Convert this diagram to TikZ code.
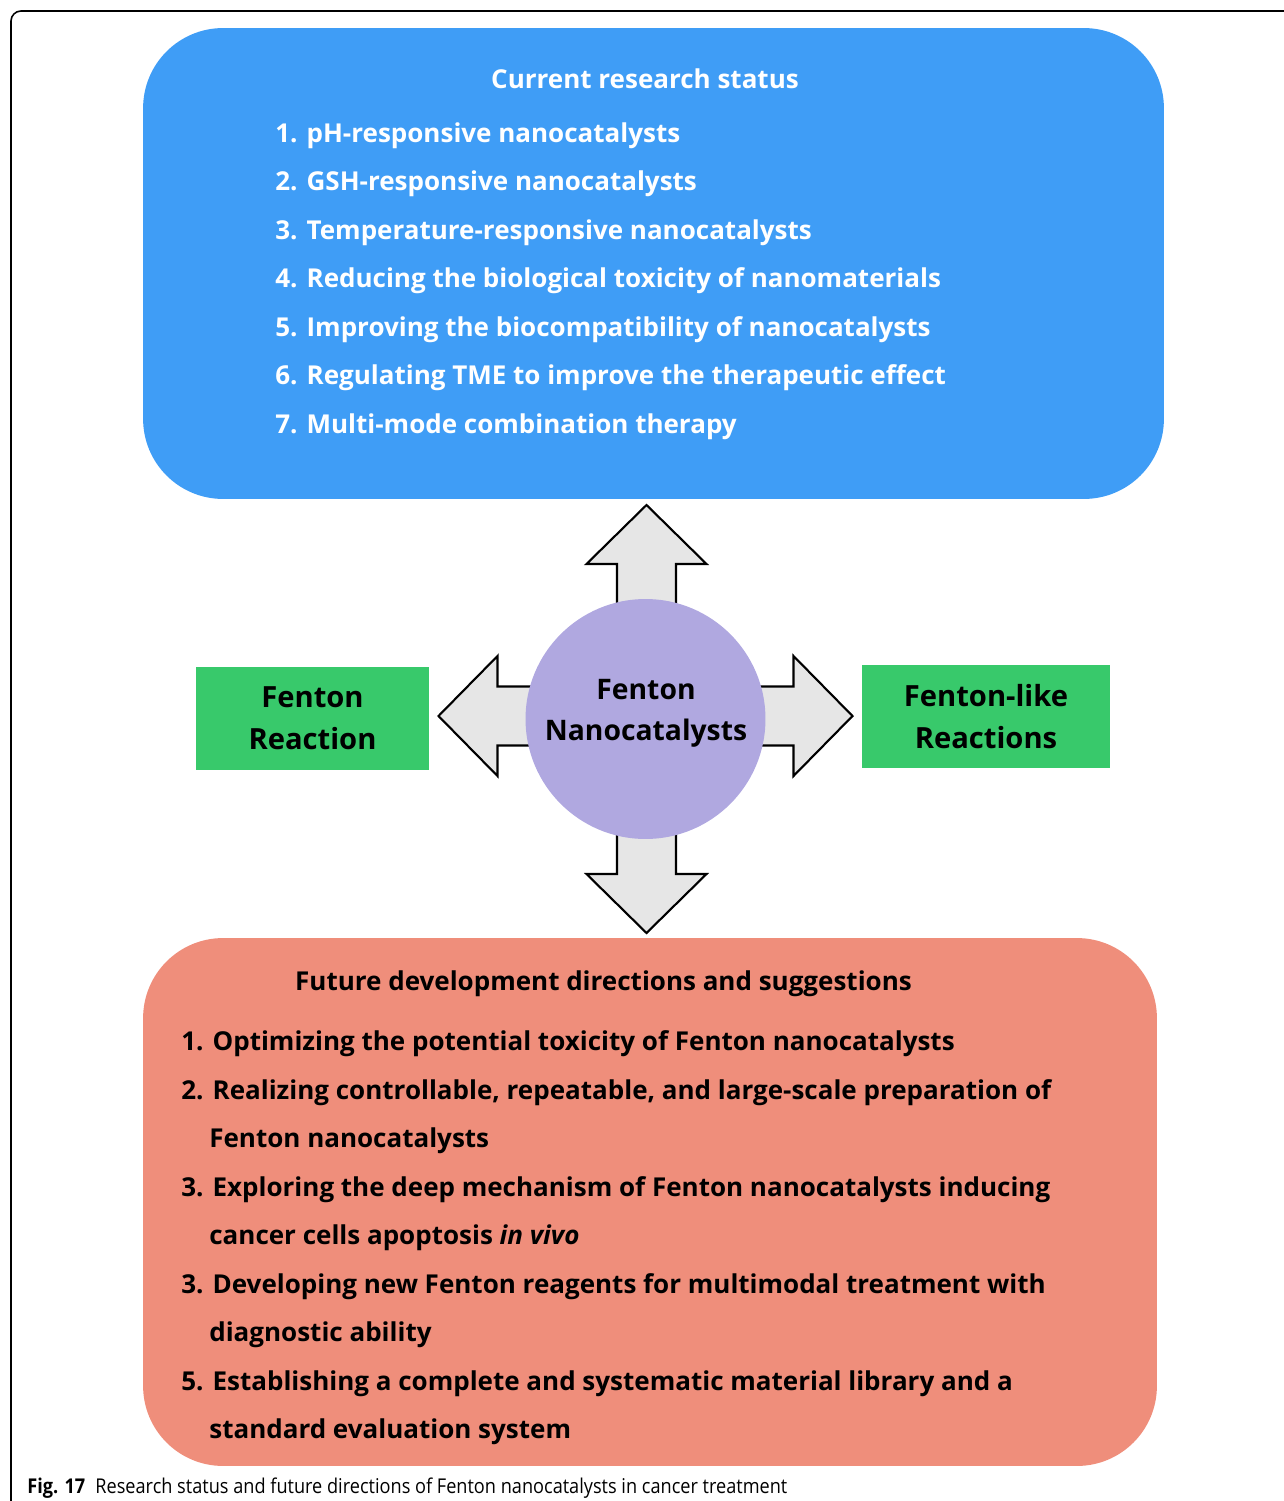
\documentclass[tikz,border=0pt]{standalone}
\usepackage{fontspec}
\setmainfont{Open Sans}
\newfontfamily\capfont[FakeStretch=0.89]{Open Sans}
\usetikzlibrary{calc}

\definecolor{statusblue}{HTML}{3F9DF6}
\definecolor{futurered}{HTML}{EF8E7B}
\definecolor{reactgreen}{HTML}{38C96B}
\definecolor{corelilac}{HTML}{B0A8E0}
\definecolor{arrowgray}{HTML}{E6E6E6}

\tikzset{
	panel/.style={draw=none, rounded corners=1.6cm, inner sep=0pt},
	itemtext/.style={anchor=base west, inner sep=0pt, font=\bfseries\fontsize{14.8}{18}\selectfont},
	headtext/.style={anchor=base, inner sep=0pt, font=\bfseries\fontsize{14.8}{18}\selectfont},
	reactbox/.style={fill=reactgreen, align=center, inner sep=0pt, minimum height=2.06cm,
		font=\bfseries\fontsize{16.6}{23.8}\selectfont},
	blockarrow/.style={draw=black, fill=arrowgray, line width=1.2pt, line join=miter},
}

\begin{document}
\begin{tikzpicture}[x=0.02cm, y=-0.02cm]
			%%%%% FRAME %%%%%
			\useasboundingbox (0, 0) rectangle (1284, 1501);
			\draw[line width=0.9pt, rounded corners=0.2cm] (1300, 11) -- (11, 11) -- (11, 1520);
			
			%%%%% CURRENT STATUS %%%%%
			\node[panel, fill=statusblue, minimum width=20.42cm, minimum height=9.42cm] (status) at (653.5, 263.5) {};
			\node[headtext, white] (statustitle) at (645, 88) {Current research status};
			\foreach \txt [count=\i] in {pH-responsive nanocatalysts,
				GSH-responsive nanocatalysts,
				Temperature-responsive nanocatalysts,
				Reducing the biological toxicity of nanomaterials,
				Improving the biocompatibility of nanocatalysts,
				Regulating TME to improve the therapeutic effect,
				Multi-mode combination therapy}
			{
				\node[itemtext, white] (status\i) at (275, 93.5 + 48.5*\i) {\i. \txt};
			}
			
			%%%%% CENTRE %%%%%
			\coordinate (hub) at (646.5, 716);
			\foreach \ang/\tip in {0/206, 90/211, 180/208, 270/217}
			{
				\draw[blockarrow, shift={(hub)}, rotate=\ang] (0, -29.5) -- (\tip-59, -29.5) -- (\tip-59, -60) -- (\tip, 0)
					-- (\tip-59, 60) -- (\tip-59, 29.5) -- (0, 29.5) -- cycle;
			}
			\node[circle, fill=corelilac, minimum size=4.8cm, inner sep=0pt] (core) at (645.5, 719) {};
			\node[align=center, inner sep=0pt, font=\bfseries\fontsize{16.1}{23.4}\selectfont] (coretitle) at (646, 713) {Fenton\\Nanocatalysts};
			
			\node[reactbox, minimum width=4.66cm] (fenton) at (312.5, 718.5) {Fenton\\Reaction};
			\node[reactbox, minimum width=4.96cm] (fentonlike) at (986, 716.5) {Fenton-like\\Reactions};
			
			%%%%% FUTURE DIRECTIONS %%%%%
			\node[panel, fill=futurered, minimum width=20.28cm, minimum height=10.56cm] (future) at (650, 1202) {};
			\node[headtext] (futuretitle) at (603.5, 990) {Future development directions and suggestions};
			
			\node[itemtext] (future1) at (181, 1050) {1. Optimizing the potential toxicity of Fenton nanocatalysts};
			\node[itemtext] (future2) at (181, 1099) {2. Realizing controllable, repeatable, and large-scale preparation of};
			\node[itemtext] (future2b) at (209, 1147) {Fenton nanocatalysts};
			\node[itemtext] (future3) at (181, 1196) {3. Exploring the deep mechanism of Fenton nanocatalysts inducing};
			\node[itemtext] (future3b) at (209, 1244) {cancer cells apoptosis \textit{in vivo}};
			\node[itemtext] (future4) at (181, 1293) {3. Developing new Fenton reagents for multimodal treatment with};
			\node[itemtext] (future4b) at (209, 1341) {diagnostic ability};
			\node[itemtext] (future5) at (181, 1390) {5. Establishing a complete and systematic material library and a};
			\node[itemtext] (future5b) at (209, 1438) {standard evaluation system};
			
			%%%%% CAPTION %%%%%
			\node[anchor=base west, inner sep=0pt, font=\capfont\fontsize{11.6}{13}\selectfont] (caption) at (27, 1493)
				{\textbf{Fig. 17}\hspace{0.5em}Research status and future directions of Fenton nanocatalysts in cancer treatment};
\end{tikzpicture}
\end{document}
